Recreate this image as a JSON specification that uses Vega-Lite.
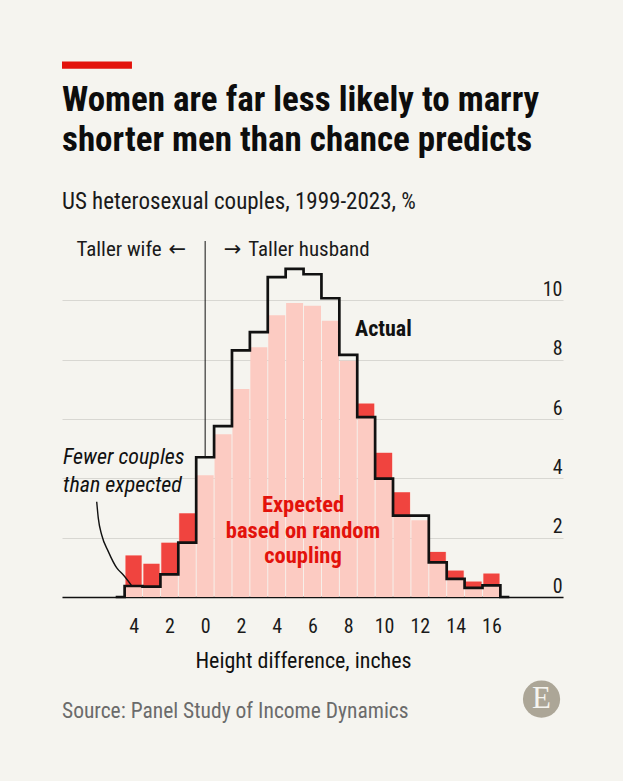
{
  "$schema": "https://vega.github.io/schema/vega-lite/v6.json",
  "width": 501,
  "height": 356,
  "autosize": {"type": "none"},
  "padding": {"left": 62, "top": 241, "right": 60, "bottom": 184},
  "background": "#f5f4ef",
  "config": {
    "view": {"stroke": null},
    "font": "Liberation Sans Narrow, Roboto Condensed, Roboto"
  },
  "datasets": {
    "couples": [
      {"inch": -5, "expected": 0, "actual": 0},
      {"inch": -4, "expected": 1.40, "actual": 0.37},
      {"inch": -3, "expected": 1.12, "actual": 0.35},
      {"inch": -2, "expected": 1.83, "actual": 0.76},
      {"inch": -1, "expected": 2.82, "actual": 1.83},
      {"inch": 0, "expected": 4.10, "actual": 4.71},
      {"inch": 1, "expected": 5.49, "actual": 5.76},
      {"inch": 2, "expected": 7.01, "actual": 8.31},
      {"inch": 3, "expected": 8.42, "actual": 8.93},
      {"inch": 4, "expected": 9.50, "actual": 10.78},
      {"inch": 5, "expected": 9.91, "actual": 11.06},
      {"inch": 6, "expected": 9.82, "actual": 10.88},
      {"inch": 7, "expected": 9.31, "actual": 10.07},
      {"inch": 8, "expected": 7.96, "actual": 8.16},
      {"inch": 9, "expected": 6.52, "actual": 6.06},
      {"inch": 10, "expected": 4.86, "actual": 3.99},
      {"inch": 11, "expected": 3.53, "actual": 2.74},
      {"inch": 12, "expected": 2.59, "actual": 2.74},
      {"inch": 13, "expected": 1.52, "actual": 1.17},
      {"inch": 14, "expected": 0.89, "actual": 0.61},
      {"inch": 15, "expected": 0.52, "actual": 0.31},
      {"inch": 16, "expected": 0.79, "actual": 0.39},
      {"inch": 17, "expected": 0, "actual": 0}
    ],
    "pointer": [
      {"inch": -6.06, "share": 3.21},
      {"inch": -5.97, "share": 2.65},
      {"inch": -5.78, "share": 2.09},
      {"inch": -5.41, "share": 1.53},
      {"inch": -4.94, "share": 0.98},
      {"inch": -4.57, "share": 0.74},
      {"inch": -4.07, "share": 0.35}
    ]
  },
  "layer": [
    {
      "data": {"name": "couples"},
      "mark": {"type": "bar", "orient": "vertical", "width": 17, "color": "#fccbc2"},
      "encoding": {
        "x": {
          "field": "inch",
          "type": "quantitative",
          "scale": {"domain": [-8, 20], "nice": false, "zero": false, "padding": 0},
          "axis": {
            "values": [-4, -2, 0, 2, 4, 6, 8, 10, 12, 14, 16],
            "labelExpr": "'' + abs(datum.value)",
            "ticks": false,
            "tickSize": 0,
            "grid": false,
            "domainColor": "#111111",
            "domainWidth": 1.5,
            "labelFontSize": 20,
            "labelColor": "#1a1a1a",
            "labelPadding": 19,
            "title": "Height difference, inches",
            "titleFontSize": 22,
            "titleFontWeight": "normal",
            "titleColor": "#111111",
            "titlePadding": 14,
            "titleX": 241
          }
        },
        "y": {
          "field": "expected",
          "type": "quantitative",
          "scale": {"domain": [0, 12], "nice": false},
          "axis": {
            "orient": "right",
            "values": [0, 2, 4, 6, 8, 10],
            "grid": true,
            "gridColor": "#d8d7d2",
            "gridWidth": 1,
            "domain": false,
            "ticks": false,
            "tickSize": 0,
            "labelAlign": "right",
            "labelPadding": -1,
            "labelBaseline": "alphabetic",
            "labelOffset": -5,
            "labelFontSize": 20,
            "labelColor": "#1a1a1a",
            "title": null
          }
        }
      }
    },
    {
      "data": {"name": "couples"},
      "transform": [{"filter": "datum.expected > datum.actual"}],
      "mark": {"type": "bar", "orient": "vertical", "width": 16, "color": "#f0443f"},
      "encoding": {
        "x": {"field": "inch", "type": "quantitative"},
        "y": {"field": "expected", "type": "quantitative"},
        "y2": {"field": "actual"}
      }
    },
    {
      "data": {"values": [{}]},
      "mark": {"type": "rule", "color": "#111111", "strokeWidth": 1},
      "encoding": {
        "x": {"datum": 0, "type": "quantitative"},
        "y": {"datum": 12, "type": "quantitative"},
        "y2": {"datum": 4.71}
      }
    },
    {
      "data": {"name": "couples"},
      "mark": {"type": "line", "interpolate": "step", "color": "#111111", "strokeWidth": 2.7},
      "encoding": {
        "x": {"field": "inch", "type": "quantitative"},
        "y": {"field": "actual", "type": "quantitative"}
      }
    },
    {
      "data": {"name": "pointer"},
      "mark": {"type": "line", "interpolate": "monotone", "color": "#111111", "strokeWidth": 1.4},
      "encoding": {
        "x": {"field": "inch", "type": "quantitative"},
        "y": {"field": "share", "type": "quantitative"}
      }
    },
    {
      "data": {"values": [{}]},
      "mark": {"type": "rule", "color": "#e3120b", "strokeWidth": 7.4, "strokeCap": "butt"},
      "encoding": {
        "x": {"datum": -8, "type": "quantitative"},
        "x2": {"datum": -4.09},
        "y": {"datum": 17.93, "type": "quantitative"}
      }
    },
    {
      "data": {"values": [{}]},
      "mark": {"type": "text", "text": ["Women are far less likely to marry", "shorter men than chance predicts"], "align": "left", "baseline": "alphabetic", "lineHeight": 40, "fontSize": 35, "fontWeight": "bold", "color": "#0d0d0d"},
      "encoding": {
        "x": {"datum": -8, "type": "quantitative"},
        "y": {"datum": 16.38, "type": "quantitative"}
      }
    },
    {
      "data": {"values": [{}]},
      "mark": {"type": "text", "text": "US heterosexual couples, 1999-2023, %", "align": "left", "baseline": "alphabetic", "fontSize": 23, "color": "#1a1a1a"},
      "encoding": {
        "x": {"datum": -8, "type": "quantitative"},
        "y": {"datum": 13.08, "type": "quantitative"}
      }
    },
    {
      "data": {"values": [{}]},
      "mark": {"type": "text", "text": "Taller wife", "align": "right", "baseline": "middle", "fontSize": 21, "color": "#1a1a1a"},
      "encoding": {
        "x": {"datum": -2.43, "type": "quantitative"},
        "y": {"datum": 11.7, "type": "quantitative"}
      }
    },
    {
      "data": {"values": [{}]},
      "mark": {"type": "text", "text": "←", "align": "center", "baseline": "middle", "fontSize": 21, "font": "DejaVu Sans", "color": "#1a1a1a"},
      "encoding": {
        "x": {"datum": -1.55, "type": "quantitative"},
        "y": {"datum": 11.7, "type": "quantitative"}
      }
    },
    {
      "data": {"values": [{}]},
      "mark": {"type": "text", "text": "→", "align": "center", "baseline": "middle", "fontSize": 21, "font": "DejaVu Sans", "color": "#1a1a1a"},
      "encoding": {
        "x": {"datum": 1.53, "type": "quantitative"},
        "y": {"datum": 11.7, "type": "quantitative"}
      }
    },
    {
      "data": {"values": [{}]},
      "mark": {"type": "text", "text": "Taller husband", "align": "left", "baseline": "middle", "fontSize": 21, "color": "#1a1a1a"},
      "encoding": {
        "x": {"datum": 2.41, "type": "quantitative"},
        "y": {"datum": 11.7, "type": "quantitative"}
      }
    },
    {
      "data": {"values": [{}]},
      "mark": {"type": "text", "text": "Actual", "align": "center", "baseline": "middle", "fontSize": 22, "fontWeight": "bold", "color": "#111111"},
      "encoding": {
        "x": {"datum": 9.96, "type": "quantitative"},
        "y": {"datum": 9.02, "type": "quantitative"}
      }
    },
    {
      "data": {"values": [{}]},
      "mark": {"type": "text", "text": ["Expected", "based on random", "coupling"], "align": "center", "baseline": "middle", "lineHeight": 25.5, "fontSize": 22.5, "fontWeight": "bold", "color": "#e3120b"},
      "encoding": {
        "x": {"datum": 5.47, "type": "quantitative"},
        "y": {"datum": 3.1, "type": "quantitative"}
      }
    },
    {
      "data": {"values": [{}]},
      "mark": {"type": "text", "text": ["Fewer couples", "than expected"], "align": "left", "baseline": "middle", "lineHeight": 28, "fontSize": 22, "fontStyle": "italic", "color": "#111111"},
      "encoding": {
        "x": {"datum": -7.94, "type": "quantitative"},
        "y": {"datum": 4.72, "type": "quantitative"}
      }
    },
    {
      "data": {"values": [{}]},
      "mark": {"type": "text", "text": "Source: Panel Study of Income Dynamics", "align": "left", "baseline": "middle", "fontSize": 21.5, "color": "#6b6b6b"},
      "encoding": {
        "x": {"datum": -8, "type": "quantitative"},
        "y": {"datum": -3.88, "type": "quantitative"}
      }
    },
    {
      "data": {"values": [{}]},
      "mark": {"type": "point", "shape": "circle", "filled": true, "size": 1385, "color": "#aca697", "opacity": 1},
      "encoding": {
        "x": {"datum": 18.8, "type": "quantitative"},
        "y": {"datum": -3.44, "type": "quantitative"}
      }
    },
    {
      "data": {"values": [{}]},
      "mark": {"type": "text", "text": "E", "align": "center", "baseline": "middle", "fontSize": 31, "font": "Liberation Serif, DejaVu Serif", "color": "#f5f4ef"},
      "encoding": {
        "x": {"datum": 18.8, "type": "quantitative"},
        "y": {"datum": -3.44, "type": "quantitative"}
      }
    }
  ]
}
